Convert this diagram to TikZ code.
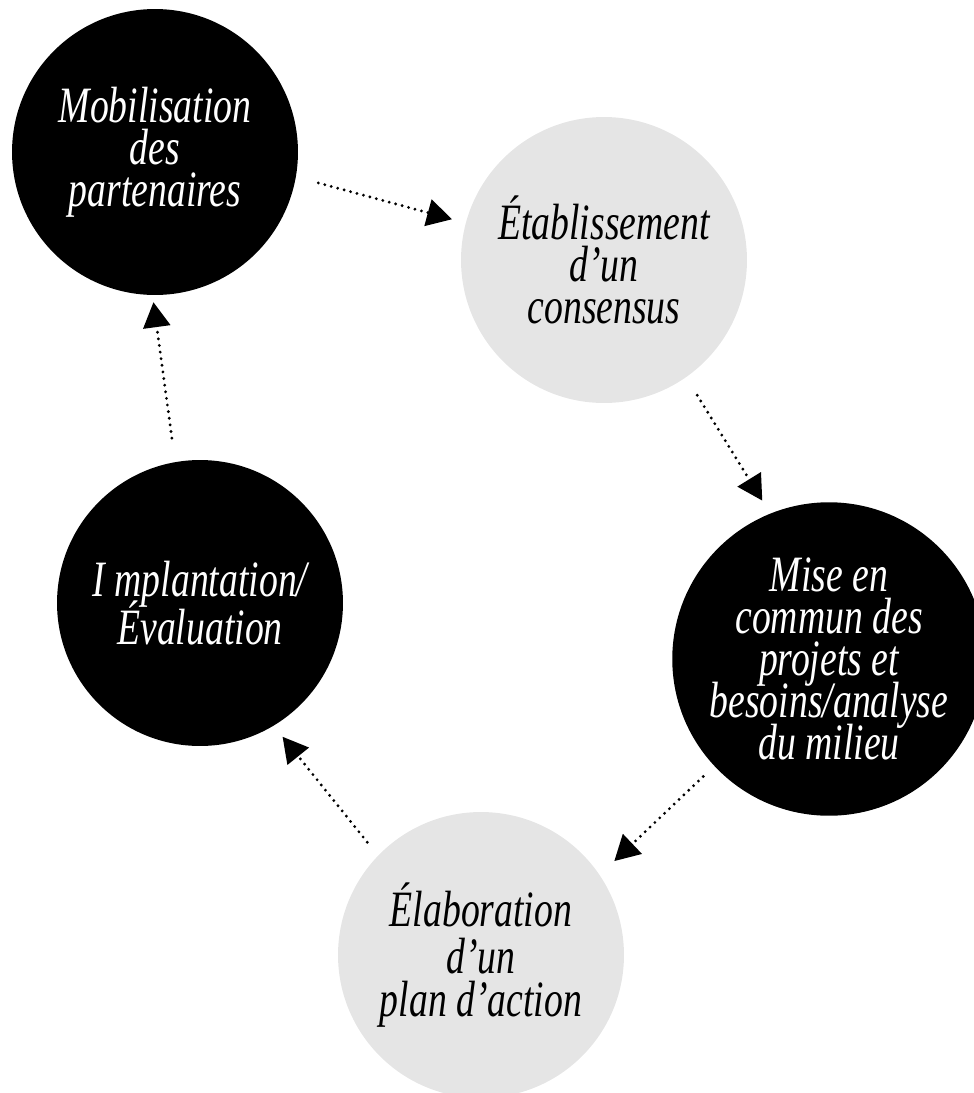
\documentclass[tikz,border=0pt]{standalone}
\usepackage{fontspec}
\newfontfamily\phasefont[FakeStretch=0.74]{Liberation Serif}
\usepackage{tikz}
\usetikzlibrary{arrows.meta}

\begin{document}
\begin{tikzpicture}[x=0.02cm, y=-0.02cm,
    phase/.style={circle, minimum size=5.72cm, inner sep=0pt, align=center,
    font={\phasefont\itshape\fontsize{29pt}{24pt}\selectfont\lineskiplimit=-50pt}},
    darkphase/.style={phase, fill=black, text=white},
    lightphase/.style={phase, fill=black!10, text=black},
    arrow/.style={-{Triangle[length=0.5cm, width=0.54cm]}, line width=1.8pt,
    dash pattern=on 0pt off 3.8pt, line cap=round}
]
\useasboundingbox (0,0) rectangle (974,1093);

\node[darkphase] (mob) at (155,152) {Mobilisation\\des\\partenaires};
\node[lightphase] (eta) at (604,260) {Établissement\\d’un\\consensus};
\node[darkphase] (mise) at (829,659) {Mise en\\commun des\\projets et\\besoins/analyse\\du milieu};
\node[lightphase] (ela) at (481,955) {Élaboration\\[0.1cm]d’un\\plan d’action};
\node[darkphase] (imp) at (200,603) {I mplantation/\\[0.12cm]Évaluation};

\draw[arrow, shorten <=0.46cm, shorten >=0.28cm] (mob.-10) -- (eta.165);
\draw[arrow, shorten <=0.42cm, shorten >=0.3cm] (eta.-55) -- (mise.112);
\draw[arrow, shorten <=0.3cm, shorten >=0.4cm] (mise.-137) -- (ela.34);
\draw[arrow, shorten <=0.34cm, shorten >=0.28cm] (ela.136) -- (imp.-59);
\draw[arrow, shorten <=0.48cm, shorten >=0.14cm] (imp.100) -- (mob.-91);

\end{tikzpicture}
\end{document}
